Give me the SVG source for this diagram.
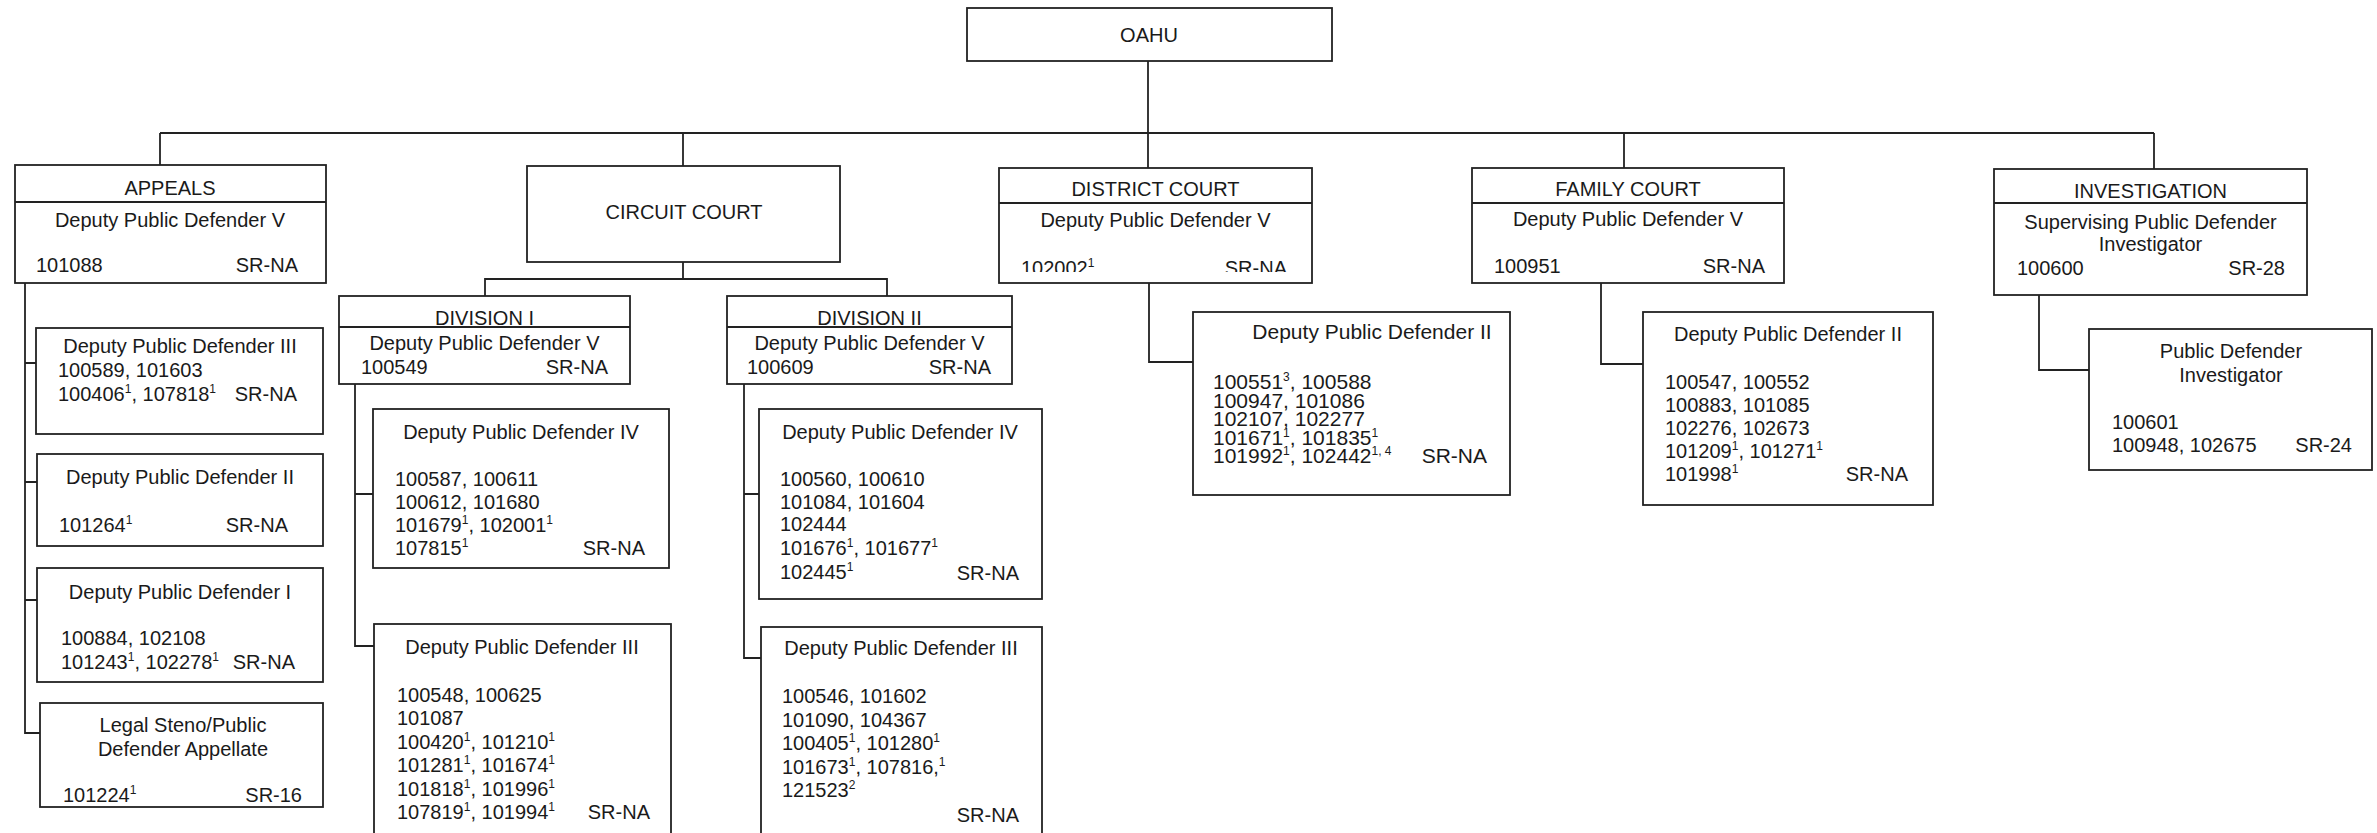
<svg xmlns="http://www.w3.org/2000/svg" width="2377" height="833" viewBox="0 0 2377 833">
<style>
text{font-family:"Liberation Sans",Arial,sans-serif;font-size:20px;fill:#1a1a1a}
.c{text-anchor:middle}
.r{text-anchor:end}
.b{font-size:21px}
.s{font-size:12px}
rect,line,path{fill:none;stroke:#222;stroke-width:1.8}
</style>
<defs>
<clipPath id="clipD"><rect x="1000" y="200" width="310" height="72"/></clipPath>
</defs>
<rect x="0" y="0" width="2377" height="833" style="fill:#fff;stroke:none"/>

<g id="connectors">
<line x1="1148" y1="61" x2="1148" y2="168"/>
<line x1="160" y1="133" x2="2154" y2="133"/>
<line x1="160" y1="133" x2="160" y2="165"/>
<line x1="683" y1="133" x2="683" y2="166"/>
<line x1="1624" y1="133" x2="1624" y2="168"/>
<line x1="2154" y1="133" x2="2154" y2="169"/>
<path d="M25 283 V733 H40 M25 363 H36 M25 482 H37 M25 600 H37"/>
<path d="M683 262 V279 M485 296 V279 H887 V296"/>
<path d="M355 384 V646 H374 M355 494 H373"/>
<path d="M744 384 V658 H761 M744 494 H759"/>
<path d="M1149 283 V362 H1193"/>
<path d="M1601 283 V364 H1643"/>
<path d="M2039 295 V370 H2089"/>
</g>

<g id="oahu">
<rect x="967" y="8" width="365" height="53"/>
<text x="1149" y="42" class="c">OAHU</text>
</g>

<g id="appeals">
<rect x="15" y="165" width="311" height="118"/>
<line x1="15" y1="202" x2="326" y2="202"/>
<text x="170" y="195" class="c">APPEALS</text>
<text x="170" y="227" class="c">Deputy Public Defender V</text>
<text x="36" y="272">101088</text>
<text x="298" y="272" class="r">SR-NA</text>
</g>

<g id="appeals-dpd3">
<rect x="36" y="328" width="287" height="106"/>
<text x="180" y="353" class="c">Deputy Public Defender III</text>
<text x="58" y="377">100589, 101603</text>
<text x="58" y="401">100406<tspan class="s" dy="-8">1</tspan><tspan dy="8">, 107818</tspan><tspan class="s" dy="-8">1</tspan></text>
<text x="297" y="401" class="r">SR-NA</text>
</g>

<g id="appeals-dpd2">
<rect x="37" y="454" width="286" height="92"/>
<text x="180" y="484" class="c">Deputy Public Defender II</text>
<text x="59" y="532">101264<tspan class="s" dy="-8">1</tspan></text>
<text x="288" y="532" class="r">SR-NA</text>
</g>

<g id="appeals-dpd1">
<rect x="37" y="568" width="286" height="114"/>
<text x="180" y="599" class="c">Deputy Public Defender I</text>
<text x="61" y="645">100884, 102108</text>
<text x="61" y="669">101243<tspan class="s" dy="-8">1</tspan><tspan dy="8">, 102278</tspan><tspan class="s" dy="-8">1</tspan></text>
<text x="295" y="669" class="r">SR-NA</text>
</g>

<g id="appeals-steno">
<rect x="40" y="703" width="283" height="104"/>
<text x="183" y="732" class="c">Legal Steno/Public</text>
<text x="183" y="756" class="c">Defender Appellate</text>
<text x="63" y="802">101224<tspan class="s" dy="-8">1</tspan></text>
<text x="302" y="802" class="r">SR-16</text>
</g>

<g id="circuit">
<rect x="527" y="166" width="313" height="96"/>
<text x="684" y="219" class="c" textLength="157" lengthAdjust="spacingAndGlyphs">CIRCUIT COURT</text>
</g>

<g id="division1">
<rect x="339" y="296" width="291" height="88"/>
<line x1="339" y1="327" x2="630" y2="327"/>
<text x="484.5" y="325" class="c">DIVISION I</text>
<text x="484.5" y="350" class="c">Deputy Public Defender V</text>
<text x="361" y="374">100549</text>
<text x="608" y="374" class="r">SR-NA</text>
</g>

<g id="division2">
<rect x="727" y="296" width="285" height="88"/>
<line x1="727" y1="327" x2="1012" y2="327"/>
<text x="869.5" y="325" class="c">DIVISION II</text>
<text x="869.5" y="350" class="c">Deputy Public Defender V</text>
<text x="747" y="374">100609</text>
<text x="991" y="374" class="r">SR-NA</text>
</g>

<g id="div1-dpd4">
<rect x="373" y="409" width="296" height="159"/>
<text x="521" y="439" class="c">Deputy Public Defender IV</text>
<text x="395" y="486">100587, 100611</text>
<text x="395" y="509">100612, 101680</text>
<text x="395" y="532">101679<tspan class="s" dy="-8">1</tspan><tspan dy="8">, 102001</tspan><tspan class="s" dy="-8">1</tspan></text>
<text x="395" y="555">107815<tspan class="s" dy="-8">1</tspan></text>
<text x="645" y="555" class="r">SR-NA</text>
</g>

<g id="div1-dpd3">
<rect x="374" y="624" width="297" height="230"/>
<text x="522" y="654" class="c">Deputy Public Defender III</text>
<text x="397" y="702">100548, 100625</text>
<text x="397" y="725">101087</text>
<text x="397" y="749">100420<tspan class="s" dy="-8">1</tspan><tspan dy="8">, 101210</tspan><tspan class="s" dy="-8">1</tspan></text>
<text x="397" y="772">101281<tspan class="s" dy="-8">1</tspan><tspan dy="8">, 101674</tspan><tspan class="s" dy="-8">1</tspan></text>
<text x="397" y="796">101818<tspan class="s" dy="-8">1</tspan><tspan dy="8">, 101996</tspan><tspan class="s" dy="-8">1</tspan></text>
<text x="397" y="819">107819<tspan class="s" dy="-8">1</tspan><tspan dy="8">, 101994</tspan><tspan class="s" dy="-8">1</tspan></text>
<text x="650" y="819" class="r">SR-NA</text>
</g>

<g id="div2-dpd4">
<rect x="759" y="409" width="283" height="190"/>
<text x="900" y="439" class="c">Deputy Public Defender IV</text>
<text x="780" y="486">100560, 100610</text>
<text x="780" y="509">101084, 101604</text>
<text x="780" y="531">102444</text>
<text x="780" y="555">101676<tspan class="s" dy="-8">1</tspan><tspan dy="8">, 101677</tspan><tspan class="s" dy="-8">1</tspan></text>
<text x="780" y="579">102445<tspan class="s" dy="-8">1</tspan></text>
<text x="1019" y="580" class="r">SR-NA</text>
</g>

<g id="div2-dpd3">
<rect x="761" y="627" width="281" height="230"/>
<text x="901" y="655" class="c">Deputy Public Defender III</text>
<text x="782" y="703">100546, 101602</text>
<text x="782" y="727">101090, 104367</text>
<text x="782" y="750">100405<tspan class="s" dy="-8">1</tspan><tspan dy="8">, 101280</tspan><tspan class="s" dy="-8">1</tspan></text>
<text x="782" y="774">101673<tspan class="s" dy="-8">1</tspan><tspan dy="8">, 107816,</tspan><tspan class="s" dy="-8">1</tspan></text>
<text x="782" y="797">121523<tspan class="s" dy="-8">2</tspan></text>
<text x="1019" y="822" class="r">SR-NA</text>
</g>

<g id="district">
<rect x="999" y="168" width="313" height="115"/>
<line x1="999" y1="203" x2="1312" y2="203"/>
<text x="1155.5" y="196" class="c">DISTRICT COURT</text>
<text x="1155.5" y="227" class="c">Deputy Public Defender V</text>
<g clip-path="url(#clipD)">
<text x="1021" y="275">102002<tspan class="s" dy="-8">1</tspan></text>
<text x="1287" y="275" class="r">SR-NA</text>
</g>
</g>

<g id="district-dpd2">
<rect x="1193" y="312" width="317" height="183"/>
<text x="1372" y="339" class="c b">Deputy Public Defender II</text>
<text x="1213" y="389" class="b">100551<tspan class="s" dy="-8">3</tspan><tspan dy="8">, 100588</tspan></text>
<text x="1213" y="407.5" class="b">100947, 101086</text>
<text x="1213" y="426" class="b">102107, 102277</text>
<text x="1213" y="444.5" class="b">101671<tspan class="s" dy="-8">1</tspan><tspan dy="8">, 101835</tspan><tspan class="s" dy="-8">1</tspan></text>
<text x="1213" y="463" class="b">101992<tspan class="s" dy="-8">1</tspan><tspan dy="8">, 102442</tspan><tspan class="s" dy="-8">1, 4</tspan></text>
<text x="1487" y="463" class="r b">SR-NA</text>
</g>

<g id="family">
<rect x="1472" y="168" width="312" height="115"/>
<line x1="1472" y1="203" x2="1784" y2="203"/>
<text x="1628" y="196" class="c">FAMILY COURT</text>
<text x="1628" y="226" class="c">Deputy Public Defender V</text>
<text x="1494" y="273">100951</text>
<text x="1765" y="273" class="r">SR-NA</text>
</g>

<g id="family-dpd2">
<rect x="1643" y="312" width="290" height="193"/>
<text x="1788" y="341" class="c">Deputy Public Defender II</text>
<text x="1665" y="389">100547, 100552</text>
<text x="1665" y="412">100883, 101085</text>
<text x="1665" y="435">102276, 102673</text>
<text x="1665" y="458">101209<tspan class="s" dy="-8">1</tspan><tspan dy="8">, 101271</tspan><tspan class="s" dy="-8">1</tspan></text>
<text x="1665" y="481">101998<tspan class="s" dy="-8">1</tspan></text>
<text x="1908" y="481" class="r">SR-NA</text>
</g>

<g id="investigation">
<rect x="1994" y="169" width="313" height="126"/>
<line x1="1994" y1="203" x2="2307" y2="203"/>
<text x="2150.5" y="198" class="c">INVESTIGATION</text>
<text x="2150.5" y="229" class="c">Supervising Public Defender</text>
<text x="2150.5" y="251" class="c">Investigator</text>
<text x="2017" y="275">100600</text>
<text x="2285" y="275" class="r">SR-28</text>
</g>

<g id="investigator">
<rect x="2089" y="329" width="283" height="141"/>
<text x="2231" y="358" class="c">Public Defender</text>
<text x="2231" y="382" class="c">Investigator</text>
<text x="2112" y="429">100601</text>
<text x="2112" y="452">100948, 102675</text>
<text x="2352" y="452" class="r">SR-24</text>
</g>
</svg>
